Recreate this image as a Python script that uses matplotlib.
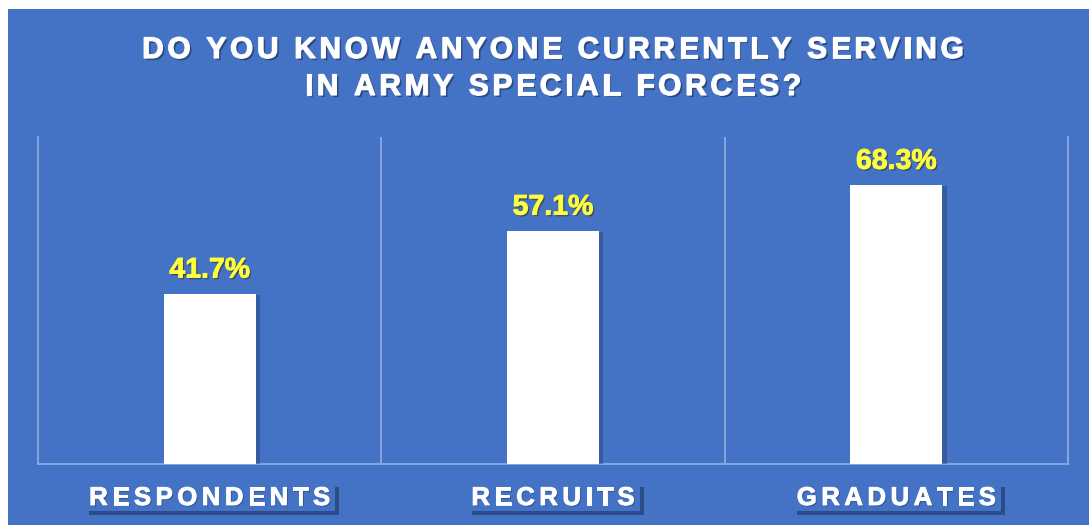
import matplotlib
matplotlib.use("Agg")
import matplotlib.pyplot as plt
import matplotlib.patheffects as pe
from matplotlib import font_manager
from matplotlib.ft2font import FT2Font
from matplotlib.patches import Rectangle
from matplotlib.transforms import IdentityTransform

categories = ["RESPONDENTS", "RECRUITS", "GRADUATES"]
values = [41.7, 57.1, 68.3]
value_labels = ["41.7%", "57.1%", "68.3%"]
title_lines = ["DO YOU KNOW ANYONE CURRENTLY SERVING", "IN ARMY SPECIAL FORCES?"]

BLUE = "#4472C4"
GRID = "#8EAADC"
YELLOW = "#FFFF3C"
FAMILY = "Liberation Sans"
FONT_PATH = font_manager.findfont(font_manager.FontProperties(family=FAMILY, weight="bold"))

W, H = 1089, 525
fig = plt.figure(figsize=(W / 100, H / 100), dpi=100, facecolor="white")

# blue panel, leaving a thin white strip on the top and left
fig.add_artist(Rectangle((8 / W, 0), 1 - 8 / W, 1 - 9 / H, transform=fig.transFigure,
                         facecolor=BLUE, edgecolor="none", zorder=0))


def spaced_text(cx, baseline, text, size, spacing, color, effects):
    """Draw text letter by letter with extra tracking, centred on cx (display px)."""
    font = FT2Font(FONT_PATH)
    font.set_size(size, fig.dpi)
    advances = [font.load_char(ord(ch)).linearHoriAdvance / 65536 for ch in text]
    total = sum(advances) + spacing * (len(text) - 1)
    x = cx - total / 2
    for ch, adv in zip(text, advances):
        fig.text(x, baseline, ch, transform=IdentityTransform(), fontsize=size,
                 family=FAMILY, weight="bold", color=color, ha="left", va="baseline",
                 path_effects=effects, zorder=5)
        x += adv + spacing
    return cx - total / 2, total


ax = fig.add_axes([38 / W, 61 / H, 1030 / W, 327 / H])
ax.set_facecolor("none")
x = list(range(len(categories)))
bars = ax.bar(x, values, width=0.268, color="white", zorder=3)
for b in bars:
    b.set_path_effects([pe.SimplePatchShadow(offset=(3, -1), shadow_rgbFace="#1F3A6E", alpha=0.4),
                        pe.Normal()])

ax.set_xlim(-0.5, 2.5)
ax.set_ylim(0, 80)
for xv in [0.5, 1.5]:
    ax.axvline(xv, color=GRID, lw=1.3, zorder=1)
for side in ["left", "right", "bottom"]:
    ax.spines[side].set_color(GRID)
    ax.spines[side].set_linewidth(1.3)
ax.spines["top"].set_visible(False)
ax.set_xticks([])
ax.set_yticks([])

for i, (v, lab) in enumerate(zip(values, value_labels)):
    ax.annotate(lab, xy=(i, v), xytext=(0, 11.5), textcoords="offset points",
                ha="center", va="baseline", fontsize=20.5, family=FAMILY, weight="bold",
                color=YELLOW, zorder=5,
                path_effects=[pe.SimplePatchShadow(offset=(1.2, -1.2), shadow_rgbFace="#333333", alpha=0.6),
                              pe.Stroke(linewidth=0.6, foreground=YELLOW), pe.Normal()])

# title
title_fx = [pe.SimplePatchShadow(offset=(1.5, -1.5), shadow_rgbFace="#1A2E55", alpha=0.6),
            pe.Stroke(linewidth=0.9, foreground="#F4F6FA"), pe.Normal()]
spaced_text(553, H - 58, title_lines[0], 21.5, 3.7, "white", title_fx)
spaced_text(553, H - 95, title_lines[1], 21.5, 3.7, "white", title_fx)

# category labels in shadowed boxes
fig.canvas.draw()
label_fx = [pe.SimplePatchShadow(offset=(1, -1), shadow_rgbFace="#1A2E55", alpha=0.4),
            pe.Stroke(linewidth=0.7, foreground="#F4F6FA"), pe.Normal()]
for i, cat in enumerate(categories):
    cx = ax.transData.transform((i, 0))[0]
    left, width = spaced_text(cx, 20, cat, 18.5, 4.5, "white", label_fx)
    box = Rectangle((left - 4, 14), width + 9, 28, transform=IdentityTransform(),
                    facecolor=BLUE, edgecolor="none", zorder=4)
    box.set_path_effects([pe.SimplePatchShadow(offset=(3, -3), shadow_rgbFace="#15284D", alpha=0.5),
                          pe.Normal()])
    fig.add_artist(box)

fig.savefig("out.png", dpi=100, facecolor="white")
